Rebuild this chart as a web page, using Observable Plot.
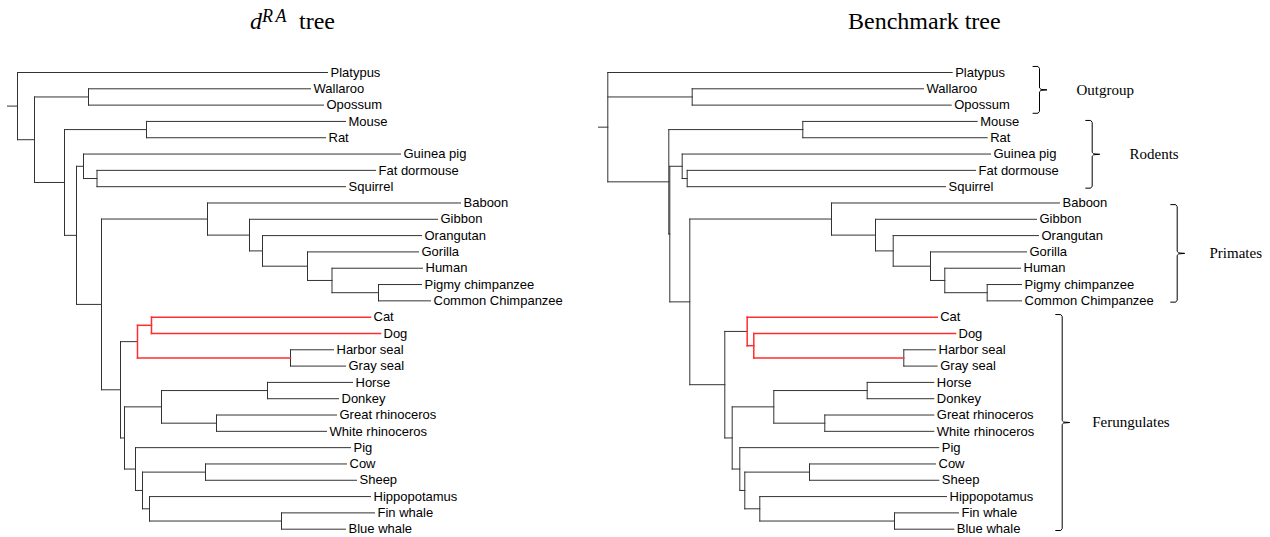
<!DOCTYPE html>
<html><head><meta charset="utf-8">
<script src="https://cdn.jsdelivr.net/npm/d3@7"></script>
<script src="https://cdn.jsdelivr.net/npm/@observablehq/plot@0.6"></script>
<style>
body{margin:0;background:#fff;width:1270px;height:537px;position:relative;overflow:hidden;font-family:"Liberation Sans",Arial,sans-serif}
.title{position:absolute;top:9px;font-family:"Liberation Serif","Times New Roman",serif;font-size:24px;line-height:24px;color:#000;white-space:nowrap}
.sup{position:absolute;top:6.6px;font-family:"Liberation Serif","Times New Roman",serif;font-style:italic;font-size:18px;line-height:18px;letter-spacing:2.5px;white-space:nowrap}
#left{position:absolute;left:0;top:47px}
#right{position:absolute;left:595px;top:47px}
</style></head><body>
<div class="title" style="left:250px;font-style:italic">d</div>
<div class="sup" style="left:262px">RA</div>
<div class="title" style="left:299px">tree</div>
<div class="title" style="left:848px">Benchmark tree</div>
<div id="left"></div><div id="right"></div>
<script>
// ---------- data ----------
const leafNames = ["Platypus","Wallaroo","Opossum","Mouse","Rat","Guinea pig","Fat dormouse","Squirrel","Baboon","Gibbon","Orangutan","Gorilla","Human","Pigmy chimpanzee","Common Chimpanzee","Cat","Dog","Harbor seal","Gray seal","Horse","Donkey","Great rhinoceros","White rhinoceros","Pig","Cow","Sheep","Hippopotamus","Fin whale","Blue whale"];

// d^RA tree (branch depths from root)
const raNodes = ["L0","L1","L2","L3","L4","L5","L6","L7","L8","L9","L10","L11","L12","L13","L14","L15","L16","L17","L18","L19","L20","L21","L22","L23","L24","L25","L26","L27"];
const raNodeParent = [null,"L0","L1","L1","L3","L3","L5","L6","L5","L8","L9","L10","L11","L12","L13","L8","L15","L16","L16","L15","L19","L20","L20","L19","L23","L24","L24","L26"];
const raNodeDepth = [0,17,71,47,129,59,66,79.5,84,190,232,245,290,314.5,361,103,120,134,273,107,144,250,199,118,125,188,132,264];
const raLeafParent = ["L0","L2","L2","L4","L4","L6","L7","L7","L9","L10","L11","L12","L13","L14","L14","L17","L17","L18","L18","L21","L21","L22","L22","L23","L25","L25","L26","L27","L27"];
const raLeafTip = [310,293,306,328,308,383,358,328,443,420,404,401,405,404,413,353,363,316,328,335,321,319,309,333,329,339,353,357,328];
const raRedClade = ["L16","L17"];
const raStem = 10;

// Benchmark tree
const bmNodes = ["R0","R1","R2","R3","R4","R5","R6","R7","R8","R9","R10","R11","R12","R13","R14","R15","R16","R17","R18","R19","R20","R21","R22","R23","R24","R25","R26"];
const bmNodeParent = [null,"R0","R0","R2","R2","R3","R5","R3","R7","R8","R9","R10","R11","R12","R7","R14","R15","R16","R14","R18","R19","R19","R18","R22","R23","R23","R25"];
const bmNodeDepth = [0,84.4,61,62,195,74.4,79.4,82,223.7,267.7,285.4,322.7,337,379.4,117,139.4,146,296,124.4,166,259.4,217,132,137,201.7,152,286.7];
const bmLeafParent = ["R0","R1","R1","R4","R4","R5","R6","R6","R8","R9","R10","R11","R12","R13","R13","R15","R16","R17","R17","R20","R20","R21","R21","R22","R24","R24","R25","R26","R26"];
const bmLeafTip = [344.4,315.7,343.4,369.4,379.4,382.7,367.7,337.7,451.7,428.7,430.7,418.7,412.7,413.7,413.7,329.4,347.7,327.7,329.4,326,326,326,326,331,327.7,331,338.7,350.7,346];
const bmRedClade = ["R15","R16"];
const bmStem = 9.3;

// Groups (brackets on benchmark tree)
const groupNames = ["Outgroup","Rodents","Primates","Ferungulates"];
const groupFirst = ["Platypus","Mouse","Baboon","Cat"];
const groupLast = ["Opossum","Squirrel","Common Chimpanzee","Blue whale"];

// bracket layout (not data)
const braceX = [431.7,484.4,569.4,454.4];
const braceLabelX = [468.7,521.7,601.7,484.4];
const bracePadTop = [0.37,0.06,-0.1,0.16];
const bracePadBottom = [0.5,0.09,0.08,0.08];

// ---------- layout ----------
function buildTree(nodes, parents, depths, leafParent, leafTip, red, stem){
  const kids = new Map(nodes.map(n => [n, []]));
  const depth = new Map(nodes.map((n,i) => [n, depths[i]]));
  nodes.forEach((n,i) => { if (parents[i]) kids.get(parents[i]).push({id:n, leaf:false}); });
  leafNames.forEach((n,i) => kids.get(leafParent[i]).push({id:n, leaf:true, i}));
  const yOf = new Map();
  function ny(id){
    if (yOf.has(id)) return yOf.get(id);
    const ys = kids.get(id).map(c => c.leaf ? c.i : ny(c.id));
    const v = (d3.min(ys) + d3.max(ys)) / 2;
    yOf.set(id, v); return v;
  }
  const segs = [];
  nodes.forEach(n => {
    const isRed = red.includes(n);
    const ys = kids.get(n).map(c => c.leaf ? c.i : ny(c.id));
    segs.push({x1:depth.get(n), x2:depth.get(n), y1:d3.min(ys), y2:d3.max(ys), red:isRed});
    kids.get(n).forEach(c => {
      const cy = c.leaf ? c.i : ny(c.id);
      const cx = c.leaf ? leafTip[c.i] : depth.get(c.id);
      segs.push({x1:depth.get(n), x2:cx, y1:cy, y2:cy, red:isRed});
    });
  });
  const root = nodes[parents.indexOf(null)];
  segs.push({x1:-stem, x2:0, y1:ny(root), y2:ny(root), red:false});
  const labels = leafNames.map((n,i) => ({name:n, x:leafTip[i] + 3, y:i}));
  return {segs, labels};
}

const yScale = {domain:[0, leafNames.length - 1], range:[25, 481.7]};
const font = {fontFamily:"'Liberation Sans', Arial, sans-serif", background:"transparent", overflow:"visible"};

function treeMarks(t){
  return [
    Plot.link(t.segs.filter(d => !d.red), {x1:"x1", y1:"y1", x2:"x2", y2:"y2", stroke:"#333", strokeWidth:1, strokeLinecap:"square"}),
    Plot.link(t.segs.filter(d => d.red), {x1:"x1", y1:"y1", x2:"x2", y2:"y2", stroke:"#ff2e2e", strokeWidth:1.5, strokeLinecap:"square"}),
    Plot.text(t.labels, {x:"x", y:"y", text:"name", textAnchor:"start", fontSize:13, fill:"#000"})
  ];
}

const ra = buildTree(raNodes, raNodeParent, raNodeDepth, raLeafParent, raLeafTip, raRedClade, raStem);
const bm = buildTree(bmNodes, bmNodeParent, bmNodeDepth, bmLeafParent, bmLeafTip, bmRedClade, bmStem);

// braces
const bracePts = [];
const braceLabels = [];
groupNames.forEach((g,k) => {
  const top = leafNames.indexOf(groupFirst[k]) - bracePadTop[k];
  const bot = leafNames.indexOf(groupLast[k]) + bracePadBottom[k];
  const mid = (top + bot) / 2;
  const x = braceX[k], h = 6.5, tp = 7.5, r = 0.12;
  [[x-h,top],[x-1.5,top],[x,top+r],[x,mid-r],[x+1.5,mid-0.03],[x+tp,mid],[x+1.5,mid+0.03],[x,mid+r],[x,bot-r],[x-1.5,bot],[x-h,bot]]
    .forEach(([px,py]) => bracePts.push({g, x:px, y:py}));
  braceLabels.push({g, x:braceLabelX[k], y:mid});
});

const left = Plot.plot({
  width:595, height:490, margin:0,
  x:{domain:[-10, 578], range:[7, 595], axis:null},
  y:{...yScale, axis:null},
  style:font,
  marks: treeMarks(ra)
});
document.getElementById("left").appendChild(left);

const right = Plot.plot({
  width:675, height:490, margin:0,
  x:{domain:[-9.3, 662.7], range:[3, 675], axis:null},
  y:{...yScale, axis:null},
  style:font,
  marks: [
    ...treeMarks(bm),
    Plot.line(bracePts, {x:"x", y:"y", z:"g", stroke:"#000", strokeWidth:1, curve:"linear"}),
    Plot.text(braceLabels, {x:"x", y:"y", text:"g", textAnchor:"start", fontSize:15, fontFamily:"'Liberation Serif', 'Times New Roman', serif", fill:"#000"})
  ]
});
document.getElementById("right").appendChild(right);
</script>
</body></html>
